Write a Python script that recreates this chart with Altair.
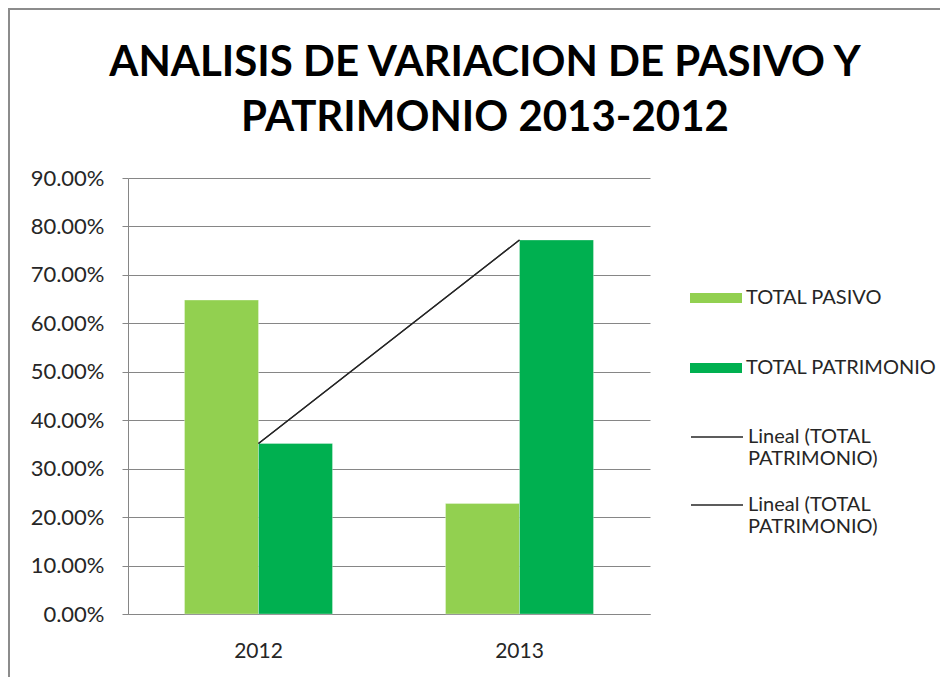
import altair as alt
import pandas as pd

years = ["2012", "2013"]
series = ["TOTAL PASIVO", "TOTAL PATRIMONIO"]
pasivo = [0.648, 0.228]
patrimonio = [0.352, 0.772]
trend_names = ["Lineal 1", "Lineal 2"]
y_ticks = [0.0, 0.1, 0.2, 0.3, 0.4, 0.5, 0.6, 0.7, 0.8, 0.9]
colors = ["#92D050", "#00B050"]

rows = []
for i, yr in enumerate(years):
    rows.append({"year": yr, "series": series[0], "value": pasivo[i]})
    rows.append({"year": yr, "series": series[1], "value": patrimonio[i]})
bars_df = pd.DataFrame(rows)

trend_rows = []
for t in trend_names:
    for i, yr in enumerate(years):
        trend_rows.append({"year": yr, "trend": t, "value": patrimonio[i]})
trend_df = pd.DataFrame(trend_rows)

W, H = 522, 436
FONT = "Lato"

x_scale = alt.Scale(domain=years, paddingInner=0.433, paddingOuter=0.2165)
y_scale = alt.Scale(domain=[0, 0.9], nice=False)

border = alt.Chart(alt.Data(values=[{}])).mark_rect(
    fill="transparent", stroke="#8c8c8c", strokeWidth=2
).encode(
    x=alt.value(-119), x2=alt.value(W + 400),
    y=alt.value(-169), y2=alt.value(H + 300)
)

bars = alt.Chart(bars_df).mark_bar(stroke="white", strokeWidth=0.5, strokeOpacity=0.6).encode(
    x=alt.X("year:N", scale=x_scale, sort=years,
            axis=alt.Axis(title=None, labelAngle=0, labelFont=FONT, labelFontSize=21,
                          labelColor="#262626", labelPadding=26, ticks=False,
                          domainColor="#868686", grid=False)),
    xOffset=alt.XOffset("series:N", sort=series, scale=alt.Scale(domain=series)),
    y=alt.Y("value:Q", scale=y_scale,
            axis=alt.Axis(title=None, values=y_ticks, format=".2%", labelFont=FONT,
                          labelFontSize=22, labelColor="#262626", tickColor="#868686",
                          tickSize=6, domainColor="#868686", gridColor="#868686",
                          gridWidth=1, labelPadding=18)),
    fill=alt.Fill("series:N", scale=alt.Scale(domain=series, range=colors),
                  legend=alt.Legend(title=None, orient="none", legendX=562, legendY=94,
                                    symbolType="M-1,-0.19H1V0.19H-1Z", symbolSize=2704,
                                    symbolStrokeWidth=0, labelFont=FONT, labelFontSize=20,
                                    labelColor="#262626", labelOffset=4, rowPadding=34,
                                    padding=0, labelLimit=300)),
)

line = alt.Chart(trend_df).mark_line(strokeWidth=1.3).encode(
    x=alt.X("year:N", scale=x_scale, sort=years),
    y=alt.Y("value:Q", scale=y_scale),
    detail="trend:N",
    stroke=alt.Stroke("trend:N", scale=alt.Scale(domain=trend_names, range=["#262626", "#262626"]),
                      legend=alt.Legend(title=None, orient="none", legendX=562, legendY=232,
                                        symbolType="stroke", symbolSize=2704,
                                        symbolStrokeWidth=1.3, labelFont=FONT, labelFontSize=20,
                                        labelColor="#262626", labelOffset=4, rowPadding=9,
                                        padding=0, labelLimit=300,
                                        labelExpr="['Lineal (TOTAL', 'PATRIMONIO)']")),
)

chart = alt.layer(border, bars, line).properties(
    width=W, height=H,
    autosize=alt.AutoSizeParams(type="none"),
    padding={"left": 120, "top": 170, "right": 290, "bottom": 63},
    title=alt.TitleParams(
        text=["ANALISIS DE VARIACION DE PASIVO Y", "PATRIMONIO 2013-2012"],
        font=FONT, fontSize=42, fontWeight="bold", color="black",
        anchor="middle", frame="group", dx=96, offset=-132, lineHeight=55),
).resolve_scale(fill="independent", stroke="independent").configure_view(
    strokeOpacity=0
)

chart.save("out.html", embed_options={"renderer": "svg", "actions": False})
